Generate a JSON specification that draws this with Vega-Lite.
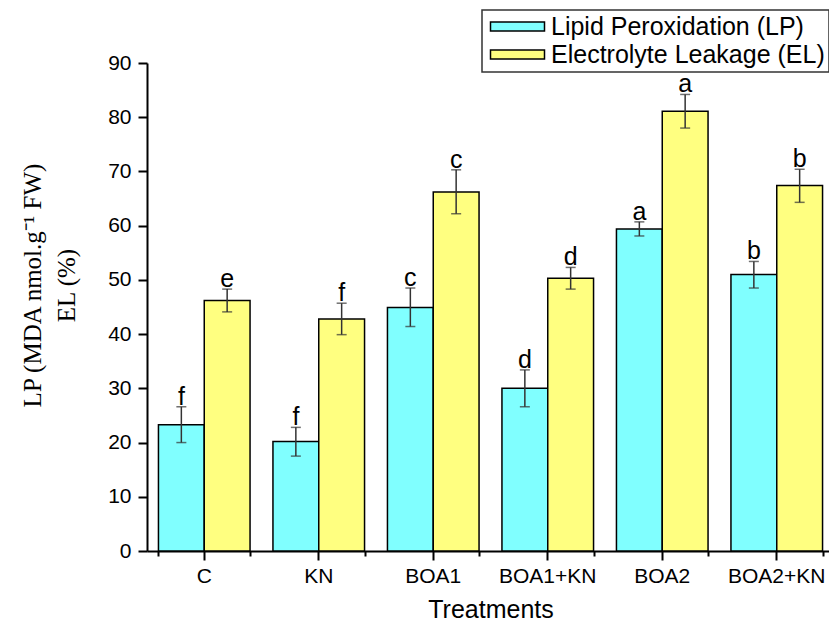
{
  "$schema": "https://vega.github.io/schema/vega-lite/v6.json",
  "autosize": "none",
  "padding": {"left": 147, "top": 63, "right": 0, "bottom": 72},
  "width": 687,
  "height": 488,
  "background": "white",
  "config": {
    "view": {"stroke": null},
    "font": "Liberation Sans",
    "legend": {"strokeWidth": 1.5}
  },
  "data": {
    "values": [
      {"treatment": "C", "series": "Lipid Peroxidation (LP)", "value": 23.3, "lo": 20.0, "hi": 26.6, "letter": "f"},
      {"treatment": "C", "series": "Electrolyte Leakage (EL)", "value": 46.2, "lo": 44.1, "hi": 48.3, "letter": "e"},
      {"treatment": "KN", "series": "Lipid Peroxidation (LP)", "value": 20.2, "lo": 17.5, "hi": 22.8, "letter": "f"},
      {"treatment": "KN", "series": "Electrolyte Leakage (EL)", "value": 42.8, "lo": 39.9, "hi": 45.7, "letter": "f"},
      {"treatment": "BOA1", "series": "Lipid Peroxidation (LP)", "value": 44.9, "lo": 41.4, "hi": 48.5, "letter": "c"},
      {"treatment": "BOA1", "series": "Electrolyte Leakage (EL)", "value": 66.2, "lo": 62.2, "hi": 70.3, "letter": "c"},
      {"treatment": "BOA1+KN", "series": "Lipid Peroxidation (LP)", "value": 30.0, "lo": 26.6, "hi": 33.4, "letter": "d"},
      {"treatment": "BOA1+KN", "series": "Electrolyte Leakage (EL)", "value": 50.3, "lo": 48.3, "hi": 52.3, "letter": "d"},
      {"treatment": "BOA2", "series": "Lipid Peroxidation (LP)", "value": 59.4, "lo": 58.1, "hi": 60.7, "letter": "a"},
      {"treatment": "BOA2", "series": "Electrolyte Leakage (EL)", "value": 81.1, "lo": 78.0, "hi": 84.2, "letter": "a"},
      {"treatment": "BOA2+KN", "series": "Lipid Peroxidation (LP)", "value": 51.0, "lo": 48.5, "hi": 53.4, "letter": "b"},
      {"treatment": "BOA2+KN", "series": "Electrolyte Leakage (EL)", "value": 67.4, "lo": 64.3, "hi": 70.4, "letter": "b"}
    ]
  },
  "encoding": {
    "x": {
      "field": "treatment",
      "type": "nominal",
      "sort": ["C", "KN", "BOA1", "BOA1+KN", "BOA2", "BOA2+KN"],
      "scale": {"paddingInner": 0.2, "paddingOuter": 0.1}
    },
    "xOffset": {
      "field": "series",
      "type": "nominal",
      "sort": ["Lipid Peroxidation (LP)", "Electrolyte Leakage (EL)"],
      "scale": {"domain": ["Lipid Peroxidation (LP)", "Electrolyte Leakage (EL)"], "paddingInner": 0, "paddingOuter": 0}
    }
  },
  "resolve": {"axis": {"x": "independent"}},
  "layer": [
    {
      "mark": {"type": "bar", "stroke": "black", "strokeWidth": 1.5},
      "encoding": {
        "x": {
          "field": "treatment",
          "type": "nominal",
          "sort": ["C", "KN", "BOA1", "BOA1+KN", "BOA2", "BOA2+KN"],
          "axis": {
            "orient": "bottom",
            "title": "Treatments",
            "titleFont": "Liberation Sans",
            "titleFontSize": 25,
            "titleFontWeight": "normal",
            "titleColor": "black",
            "titlePadding": 11,
            "labelAngle": 0,
            "labelFont": "Liberation Sans",
            "labelFontSize": 21,
            "labelColor": "black",
            "labelPadding": 5,
            "domainColor": "black",
            "domainWidth": 2,
            "tickColor": "black",
            "tickWidth": 2,
            "tickSize": 9
          }
        },
        "y": {
          "field": "value",
          "type": "quantitative",
          "scale": {"domain": [0, 90], "nice": false},
          "axis": {
            "title": ["LP (MDA nmol.g⁻¹ FW)", "EL (%)"],
            "titleFont": "Liberation Serif",
            "titleFontSize": 25,
            "titleFontWeight": "normal",
            "titleColor": "black",
            "titleLineHeight": 34,
            "titleX": -115,
            "titleY": 222,
            "titleBaseline": "middle",
            "values": [0, 5, 10, 15, 20, 25, 30, 35, 40, 45, 50, 55, 60, 65, 70, 75, 80, 85, 90],
            "labelExpr": "datum.value % 10 === 0 ? datum.label : ''",
            "labelFont": "Liberation Sans",
            "labelFontSize": 21,
            "labelColor": "black",
            "labelPadding": 7,
            "grid": false,
            "domainColor": "black",
            "domainWidth": 2,
            "tickColor": "black",
            "tickWidth": 2,
            "tickSize": {"condition": {"test": "datum.value % 10 === 0", "value": 9}, "value": 5}
          }
        },
        "color": {
          "field": "series",
          "type": "nominal",
          "scale": {"domain": ["Lipid Peroxidation (LP)", "Electrolyte Leakage (EL)"], "range": ["#80FFFF", "#FFFF80"]},
          "legend": {
            "title": null,
            "orient": "none",
            "legendX": 335,
            "legendY": -53,
            "padding": 4,
            "strokeColor": "#333",
            "symbolType": "M-0.8,-0.46H4.6V0.46H-0.8Z",
            "symbolSize": 400,
            "symbolStrokeColor": "black",
            "symbolStrokeWidth": 1.5,
            "symbolOpacity": 1,
            "labelFont": "Liberation Sans",
            "labelFontSize": 25,
            "labelColor": "black",
            "labelOffset": 40,
            "labelLimit": 400,
            "rowPadding": 2
          }
        }
      }
    },
    {
      "mark": {"type": "rule", "color": "#333", "strokeWidth": 1.5},
      "encoding": {
        "x": {
          "field": "treatment",
          "type": "nominal",
          "sort": ["C", "KN", "BOA1", "BOA1+KN", "BOA2", "BOA2+KN"],
          "axis": {
            "orient": "bottom",
            "title": null,
            "labels": false,
            "domain": false,
            "tickBand": "extent",
            "tickColor": "black",
            "tickWidth": 2,
            "tickSize": 5
          }
        },
        "y": {"field": "lo", "type": "quantitative"},
        "y2": {"field": "hi"}
      }
    },
    {
      "mark": {"type": "tick", "orient": "horizontal", "size": 10, "thickness": 1.5, "color": "#333"},
      "encoding": {
        "x": {"field": "treatment", "type": "nominal", "sort": ["C", "KN", "BOA1", "BOA1+KN", "BOA2", "BOA2+KN"], "axis": null},
        "y": {"field": "lo", "type": "quantitative"}
      }
    },
    {
      "mark": {"type": "tick", "orient": "horizontal", "size": 10, "thickness": 1.5, "color": "#333"},
      "encoding": {
        "x": {"field": "treatment", "type": "nominal", "sort": ["C", "KN", "BOA1", "BOA1+KN", "BOA2", "BOA2+KN"], "axis": null},
        "y": {"field": "hi", "type": "quantitative"}
      }
    },
    {
      "mark": {"type": "text", "font": "Liberation Sans", "fontSize": 25, "color": "black", "baseline": "alphabetic", "dy": -2},
      "encoding": {
        "x": {"field": "treatment", "type": "nominal", "sort": ["C", "KN", "BOA1", "BOA1+KN", "BOA2", "BOA2+KN"], "axis": null},
        "y": {"field": "hi", "type": "quantitative"},
        "text": {"field": "letter"}
      }
    }
  ]
}
